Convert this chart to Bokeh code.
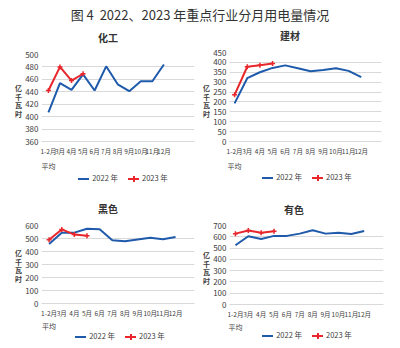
from bokeh.plotting import figure
from bokeh.models import Range1d, FixedTicker, Div, LinearAxis
from bokeh.layouts import column, row
from bokeh.embed import file_html
from bokeh.resources import INLINE

FONT = "Noto Sans CJK SC"
NUMFONT = "Liberation Sans Narrow, Noto Sans CJK SC"
BLUE = "#1f5aab"
RED = "#e8262b"
GRID = "#d9d9d9"
TXT = "#404040"

months = ["1-2月", "3月", "4月", "5月", "6月", "7月", "8月", "9月", "10月", "11月", "12月"]
sub_label = "平均"
main_title = "图 4  2022、2023 年重点行业分月用电量情况"
ylab = ["亿", "千", "瓦", "时"]
series_names = ["2022 年", "2023 年"]

chem_title = "化工"
chem_2022 = [407, 454, 443, 468, 442, 481, 452, 441, 457, 457, 484]
chem_2023 = [442, 480, 458, 469]

build_title = "建材"
build_2022 = [193, 320, 350, 372, 385, 370, 355, 362, 370, 357, 325]
build_2023 = [236, 378, 386, 394]

ferrous_title = "黑色"
ferrous_2022 = [458, 545, 545, 575, 572, 487, 478, 492, 505, 495, 512]
ferrous_2023 = [490, 570, 530, 522]

nonferrous_title = "有色"
nonferrous_2022 = [525, 605, 580, 608, 608, 628, 658, 628, 635, 625, 652]
nonferrous_2023 = [628, 655, 635, 650]

xs = list(range(len(months)))


def box(text, w, h, extra):
    st = {"font-family": FONT, "color": TXT, "margin": "0", "box-sizing": "border-box",
          "width": f"{w}px", "height": f"{h}px", "overflow": "visible", "white-space": "nowrap"}
    st.update(extra)
    return Div(text=text, width=w, height=h, styles=st)


def ylabel_div(w, h, top):
    return box("<br>".join(ylab), w, h,
               {"font-size": "7px", "font-weight": "bold", "text-align": "right",
                "line-height": "8.6px", "padding-top": f"{top}px"})


def title_div(text, w, h, top, pl, pr):
    return box(text, w, h, {"font-size": "10px", "font-weight": "bold", "color": "#333333",
                            "text-align": "center", "line-height": "12px",
                            "padding-top": f"{top}px", "padding-left": f"{pl}px",
                            "padding-right": f"{pr}px"})


def legend_div(w, h, dy, pl):
    blue = (f'<span style="display:inline-block;width:11px;height:2px;background:{BLUE};'
            f'vertical-align:middle;margin-right:3px"></span>{series_names[0]}')
    gap = '<span style="display:inline-block;width:10px"></span>'
    red = (f'<span style="display:inline-block;position:relative;width:11px;height:2px;'
           f'background:{RED};vertical-align:middle;margin-right:3px">'
           f'<span style="position:absolute;left:4.5px;top:-2px;width:2px;height:6px;'
           f'background:{RED}"></span></span>{series_names[1]}')
    html = f'<div style="position:relative;top:{dy}px;line-height:10px">{blue}{gap}{red}</div>'
    return box(html, w, h,
               {"font-size": "7.5px", "text-align": "center", "line-height": "10px",
                "padding-left": f"{pl}px"})


def panel(d22, d23, yr, ystep, xr, w, h, borders, sub_standoff):
    bl, br, bt, bb = borders
    p = figure(width=w, height=h, output_backend="svg", toolbar_location=None,
               x_range=Range1d(*xr), y_range=Range1d(*yr),
               min_border_left=bl, min_border_right=br, min_border_top=bt,
               min_border_bottom=bb, x_axis_location=None)
    p.outline_line_color = None
    p.background_fill_color = "white"
    p.border_fill_color = "white"

    p.yaxis.ticker = FixedTicker(ticks=list(range(yr[0], yr[1] + 1, ystep)))
    p.yaxis.axis_line_color = None
    p.yaxis.major_tick_line_color = None
    p.yaxis.minor_tick_line_color = None
    p.yaxis.major_tick_out = 0
    p.yaxis.major_tick_in = 0
    p.yaxis.minor_tick_out = 0
    p.yaxis.major_label_standoff = 3
    p.yaxis.major_label_text_font = NUMFONT
    p.yaxis.major_label_text_font_size = "8px"
    p.yaxis.major_label_text_color = TXT

    xa = LinearAxis(ticker=FixedTicker(ticks=xs),
                    major_label_overrides={i: m for i, m in enumerate(months)},
                    axis_line_color=GRID, major_tick_line_color=None,
                    minor_tick_line_color=None, major_tick_out=0, major_tick_in=0,
                    minor_tick_out=0, major_label_standoff=4,
                    major_label_text_font=NUMFONT, major_label_text_font_size="6.5px",
                    major_label_text_color=TXT)
    p.add_layout(xa, "below")
    xa2 = LinearAxis(ticker=FixedTicker(ticks=[0]),
                     major_label_overrides={0: sub_label},
                     axis_line_color=None, major_tick_line_color=None,
                     minor_tick_line_color=None, major_tick_out=0, major_tick_in=0,
                     minor_tick_out=0, major_label_standoff=sub_standoff,
                     major_label_text_font=FONT, major_label_text_font_size="7px",
                     major_label_text_color=TXT)
    p.add_layout(xa2, "below")

    p.xgrid.grid_line_color = None
    p.ygrid.grid_line_color = GRID
    p.ygrid.grid_line_width = 1

    p.line(xs, d22, line_color=BLUE, line_width=2)
    x23 = xs[:len(d23)]
    p.line(x23, d23, line_color=RED, line_width=2)
    p.scatter(x23, d23, marker="cross", size=5, line_color=RED, line_width=1.5)
    return p


# top row: y 27..185
p1 = panel(chem_2022, chem_2023, (360, 500), 20, (-0.6, 12.65), 178, 126, (17, 6, 7, 27), 2)
p2 = panel(build_2022, build_2023, (0, 450), 50, (-0.4, 11.6), 190, 126, (17, 19, 5, 28), 2)
# bottom row: y 185..348
p3 = panel(ferrous_2022, ferrous_2023, (0, 600), 100, (-0.6, 11.5), 178, 118, (17, 6, 10, 28), 0)
p4 = panel(nonferrous_2022, nonferrous_2023, (0, 700), 100, (-0.46, 11.5), 190, 119, (17, 17, 10, 28), 0)

c1 = column(title_div(chem_title, 200, 20, 5, 16, 0),
            row(ylabel_div(22, 126, 37), p1),
            legend_div(200, 12, 0, 46))
c2 = column(title_div(build_title, 200, 20, 3, 0, 20),
            row(ylabel_div(10, 126, 37), p2),
            legend_div(200, 12, -1, 14))
c3 = column(title_div(ferrous_title, 200, 30, 18, 16, 0),
            row(ylabel_div(22, 118, 34), p3),
            legend_div(200, 15, -2, 40))
c4 = column(title_div(nonferrous_title, 200, 30, 19, 0, 12),
            row(ylabel_div(10, 119, 36), p4),
            legend_div(200, 14, -4, 14))

title = box(main_title.replace("  ", "&nbsp;&nbsp;"), 400, 27,
            {"font-size": "13px", "color": "#333333", "text-align": "center",
             "line-height": "30px"})

layout = column(title, row(c1, c2), row(c3, c4))
open("out.html", "w").write(file_html(layout, INLINE))
